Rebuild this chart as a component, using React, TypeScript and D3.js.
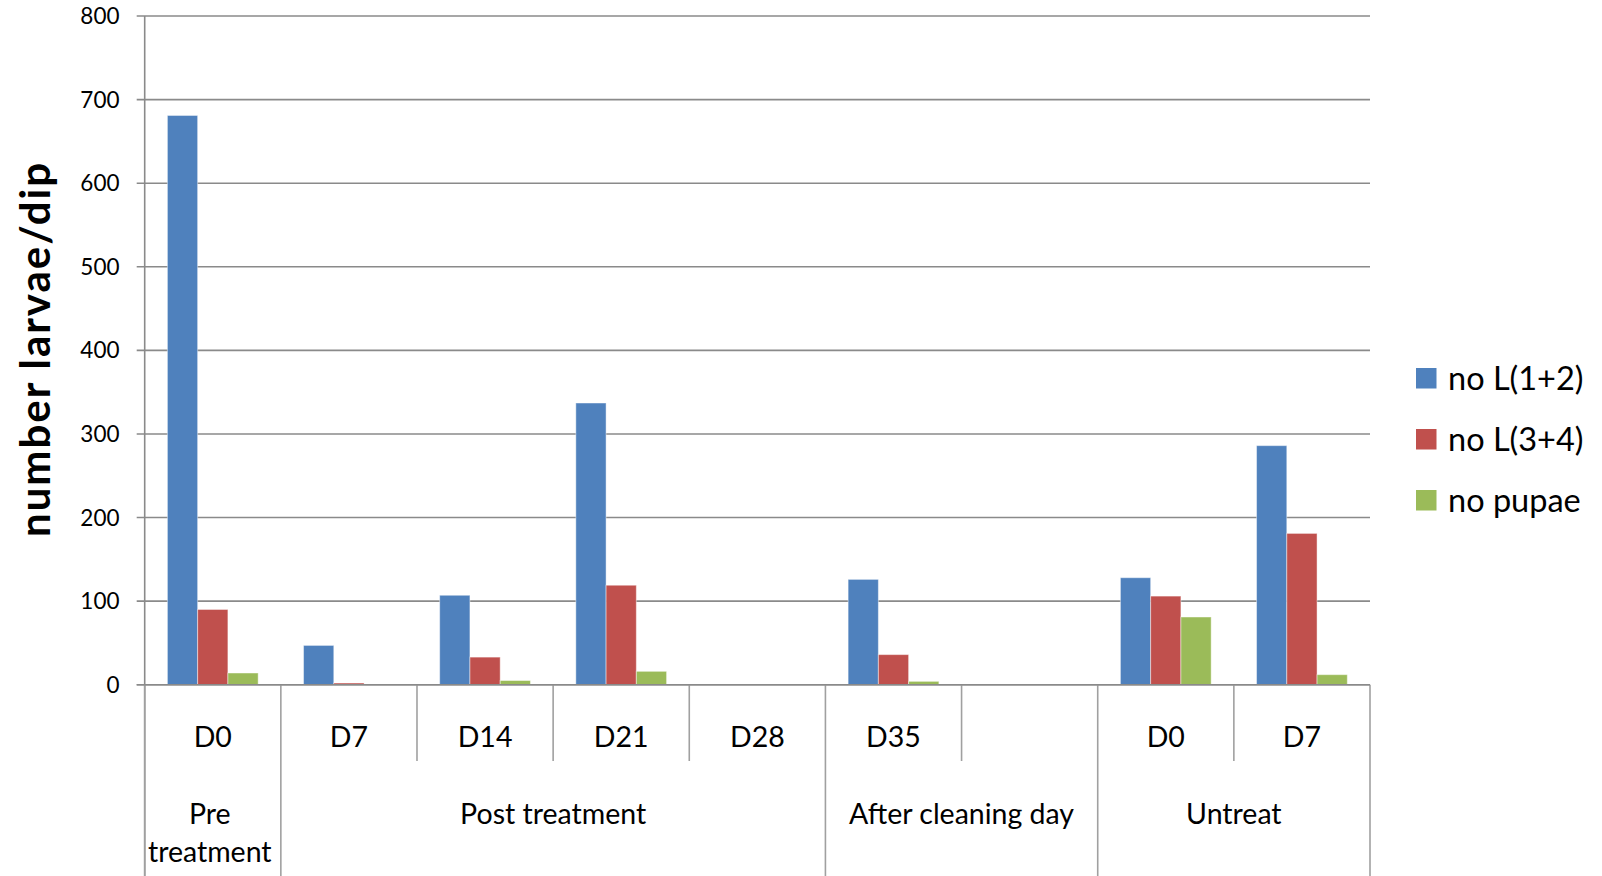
import React from "react";
import * as d3 from "d3";

const categories = ["D0", "D7", "D14", "D21", "D28", "D35", "", "D0", "D7"];
const seriesNames = ["no L(1+2)", "no L(3+4)", "no pupae"];
const larvaeL12 = [681, 47, 107, 337, 0, 126, null, 128, 286];
const larvaeL34 = [90, 2, 33, 119, 0, 36, null, 106, 181];
const pupae = [14, 0, 5, 16, 0, 4, null, 81, 12];
const seriesColors = ["#4F81BD", "#C0504D", "#9BBB59"];
const groupLabels = ["Pre treatment", "Post treatment", "After cleaning day", "Untreat"];
const groupSpans = [1, 4, 2, 2];
const yTicks = [0, 100, 200, 300, 400, 500, 600, 700, 800];
const yTitle = "number larvae/dip";

const W = 1602;
const H = 876;
const FONT = "Lato, 'Open Sans', sans-serif";

export default function App() {
  const left = 144.7, right = 1370, top = 16, bottom = 684.7;
  const series = [larvaeL12, larvaeL34, pupae];
  const y = d3.scaleLinear().domain([0, 800]).range([bottom, top]);
  const x = d3.scaleBand<number>().domain(categories.map((_, i) => i)).range([left, right]).paddingInner(0).paddingOuter(0);
  const bw = x.bandwidth();
  const gw = (bw * 3) / 4.5;
  const xs = d3.scaleBand<number>().domain([0, 1, 2]).range([(bw - gw) / 2, (bw + gw) / 2]);

  const gridColor = "#8a8a8a";
  const lowColor = "#a0a0a0";

  const bounds: number[] = [0];
  groupSpans.forEach((s) => bounds.push(bounds[bounds.length - 1] + s));
  const edge = (i: number) => (i < categories.length ? (x(i) as number) : right);

  return (
    <svg width={W} height={H} style={{ position: "absolute", left: 0, top: 0, background: "#fff" }} fontFamily={FONT}>
      <rect x={0} y={0} width={W} height={H} fill="#fff" />
      {yTicks.map((t) => (
        <g key={t}>
          <line x1={left - 8} x2={right} y1={y(t)} y2={y(t)} stroke={gridColor} strokeWidth={1.6} />
          <text x={119.5} y={y(t) + 8} fontSize={22.5} textAnchor="end" fill="#000">
            {t}
          </text>
        </g>
      ))}
      <line x1={left} x2={left} y1={top} y2={H} stroke={gridColor} strokeWidth={1.6} />
      {series.map((vals, si) =>
        vals.map((v, ci) =>
          v === null || v === 0 ? null : (
            <rect
              key={`${si}-${ci}`}
              x={(x(ci) as number) + (xs(si) as number)}
              y={y(v)}
              width={xs.bandwidth()}
              height={bottom - y(v)}
              fill={seriesColors[si]}
              stroke="rgba(255,255,255,0.45)"
              strokeWidth={1}
            />
          )
        )
      )}
      {categories.map((_, i) =>
        i === 0 || bounds.includes(i) ? null : (
          <line key={i} x1={x(i)} x2={x(i)} y1={bottom} y2={761} stroke={lowColor} strokeWidth={1.6} />
        )
      )}
      {bounds.map((b) => (
        <line key={`b${b}`} x1={edge(b)} x2={edge(b)} y1={bottom} y2={H} stroke={lowColor} strokeWidth={1.6} />
      ))}
      <line x1={left - 8} x2={right} y1={bottom} y2={bottom} stroke={gridColor} strokeWidth={1.6} />
      {categories.map((c, i) => (
        <text key={`c${i}`} x={(x(i) as number) + bw / 2} y={746.5} fontSize={28.5} textAnchor="middle" fill="#000">
          {c}
        </text>
      ))}
      {groupLabels.map((g, gi) => {
        const x0 = edge(bounds[gi]);
        const x1 = edge(bounds[gi + 1]);
        const lines = groupSpans[gi] === 1 ? g.split(" ") : [g];
        const cx = (x0 + x1) / 2 - (lines.length > 1 ? 3 : 0);
        return (
          <text key={`g${gi}`} x={cx} y={823.5} fontSize={28.5} textAnchor="middle" fill="#000">
            {lines.map((l, li) => (
              <tspan key={li} x={cx} dy={li === 0 ? 0 : 38.5}>
                {l}
              </tspan>
            ))}
          </text>
        );
      })}
      <text
        transform={`translate(50,350) rotate(-90)`}
        textAnchor="middle"
        fontSize={42}
        fontWeight="bold"
        fill="#000"
        textLength={374}
        lengthAdjust="spacing"
      >
        {yTitle}
      </text>
      {seriesNames.map((s, i) => {
        const cy = 378 + i * 61;
        return (
          <g key={s}>
            <rect x={1416} y={cy - 10} width={20.5} height={20.5} fill={seriesColors[i]} />
            <text x={1448} y={cy + 11.5} fontSize={32.5} fill="#000">
              {s}
            </text>
          </g>
        );
      })}
    </svg>
  );
}
